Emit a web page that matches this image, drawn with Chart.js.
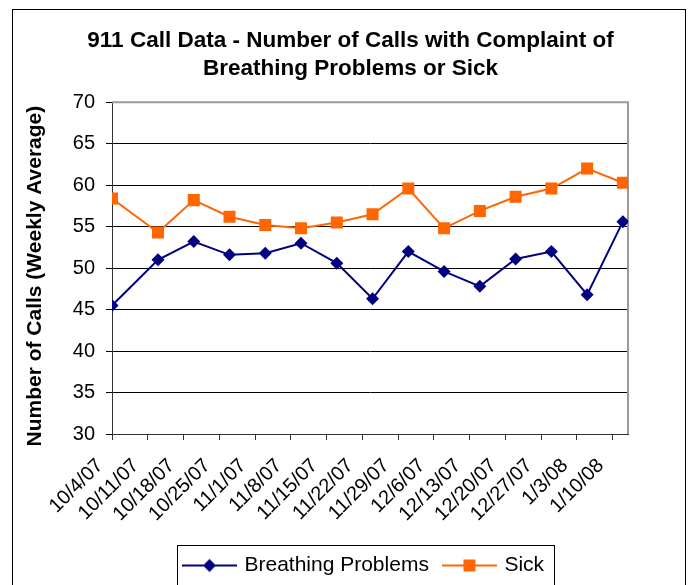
<!DOCTYPE html>
<html>
<head>
<meta charset="utf-8">
<script src="https://cdn.jsdelivr.net/npm/chart.js@4.4.1/dist/chart.umd.min.js"></script>
<style>
  html, body { margin: 0; padding: 0; background: #ffffff; }
  #wrap { position: relative; width: 693px; height: 585px; }
</style>
</head>
<body>
<div id="wrap"><canvas id="c" width="693" height="585"></canvas></div>
<script>
// ---- data ----
const titleLines = ["911 Call Data - Number of Calls with Complaint of", "Breathing Problems or Sick"];
const yAxisTitle = "Number of Calls (Weekly Average)";
const tickLabels = ["10/4/07", "10/11/07", "10/18/07", "10/25/07", "11/1/07", "11/8/07", "11/15/07", "11/22/07", "11/29/07", "12/6/07", "12/13/07", "12/20/07", "12/27/07", "1/3/08", "1/10/08"];
const tickDays = [0, 7, 14, 21, 28, 35, 42, 49, 56, 63, 70, 77, 84, 91, 98];   // days after 10/4/07
const pointDays = [0, 9, 16, 23, 30, 37, 44, 51, 58, 65, 72, 79, 86, 93, 100]; // data dates, days after 10/4/07
const breathing = [45.5, 51.0, 53.2, 51.6, 51.8, 53.0, 50.6, 46.3, 52.0, 49.6, 47.8, 51.1, 52.0, 46.8, 55.6];
const sick = [58.4, 54.3, 58.2, 56.2, 55.2, 54.8, 55.5, 56.5, 59.6, 54.8, 56.9, 58.6, 59.6, 62.0, 60.3];
const seriesNames = ["Breathing Problems", "Sick"];
const axisMaxDay = 101;

const FONT = "'Liberation Sans', Arial, sans-serif";
const NAVY = '#000080';
const ORANGE = '#FF6600';
const LEGEND_SHIFT = 14;
const YTITLE_SHIFT = 8;

function makeIcon(color, kind) {
  const c = document.createElement('canvas');
  c.width = 55; c.height = 16;
  const g = c.getContext('2d');
  g.strokeStyle = color; g.lineWidth = 2;
  g.beginPath(); g.moveTo(0, 8); g.lineTo(55, 8); g.stroke();
  g.fillStyle = color;
  g.beginPath();
  if (kind === 'diamond') {
    g.moveTo(27.5, 1.5); g.lineTo(34, 8); g.lineTo(27.5, 14.5); g.lineTo(21, 8); g.closePath();
  } else {
    g.rect(21.5, 2, 12, 12);
  }
  g.fill();
  return c;
}
const icons = [makeIcon(NAVY, 'diamond'), makeIcon(ORANGE, 'square')];

const frame = {
  id: 'frame',
  beforeDraw(chart) {
    const ctx = chart.ctx;
    ctx.save();
    ctx.fillStyle = '#fff';
    ctx.fillRect(0, 0, chart.width, chart.height);
    ctx.strokeStyle = '#000';
    ctx.lineWidth = 1;
    ctx.strokeRect(12.5, 9.5, 673, 620);
    ctx.restore();
    const lg = chart.legend;
    if (lg && !lg._shifted) { lg.left += LEGEND_SHIFT; lg.right += LEGEND_SHIFT; lg._shifted = true; }
    const ys = chart.scales.y;
    if (ys && !ys._titlePatched) {
      const orig = ys.drawTitle.bind(ys);
      ys.drawTitle = function () {
        const c = this.ctx;
        c.save(); c.translate(0, YTITLE_SHIFT); orig(); c.restore();
      };
      ys._titlePatched = true;
    }
  },
  beforeDatasetsDraw(chart) {
    const a = chart.chartArea, ctx = chart.ctx;
    ctx.save();
    ctx.strokeStyle = '#9a9a9a';
    ctx.lineWidth = 2;
    ctx.beginPath();
    ctx.moveTo(a.left, a.top); ctx.lineTo(a.right, a.top); ctx.lineTo(a.right, a.bottom);
    ctx.stroke();
    ctx.restore();
  },
  afterDraw(chart) {
    const lg = chart.legend, ctx = chart.ctx;
    if (!lg || !lg.legendHitBoxes || !lg.legendHitBoxes.length) return;
    const hb = lg.legendHitBoxes;
    const first = hb[0], last = hb[hb.length - 1];
    const l = first.left + LEGEND_SHIFT - 8, r = last.left + last.width + LEGEND_SHIFT + 10;
    ctx.save();
    ctx.strokeStyle = '#000';
    ctx.lineWidth = 1;
    ctx.strokeRect(Math.round(l) + 0.5, Math.round(lg.top + 6) + 0.5, Math.round(r - l), 60);
    ctx.restore();
  }
};

new Chart(document.getElementById('c'), {
  type: 'line',
  data: {
    datasets: [
      {
        label: seriesNames[0],
        data: pointDays.map((d, i) => ({ x: d, y: breathing[i] })),
        borderColor: NAVY, backgroundColor: NAVY, borderWidth: 2,
        pointStyle: 'rectRot', pointRadius: 6.5, pointBorderWidth: 0,
        pointBackgroundColor: NAVY, tension: 0
      },
      {
        label: seriesNames[1],
        data: pointDays.map((d, i) => ({ x: d, y: sick[i] })),
        borderColor: ORANGE, backgroundColor: ORANGE, borderWidth: 2,
        pointStyle: 'rect', pointRadius: 8.5, pointBorderWidth: 0,
        pointBackgroundColor: ORANGE, tension: 0
      }
    ]
  },
  options: {
    responsive: false,
    animation: false,
    events: [],
    layout: { padding: { top: 27, left: 18, right: 10, bottom: -1 } },
    scales: {
      x: {
        type: 'linear',
        min: 0, max: axisMaxDay,
        afterBuildTicks(scale) { scale.ticks = tickDays.map(v => ({ value: v })); },
        afterFit(scale) { scale.height = 105; },
        grid: { drawOnChartArea: false, drawTicks: true, tickLength: 6, color: '#333' },
        border: { color: '#333', width: 1 },
        ticks: {
          autoSkip: false, maxRotation: 45, minRotation: 45,
          color: '#000', padding: 14, labelOffset: -12,
          font: { family: FONT, size: 20 },
          callback: (v, i) => tickLabels[i]
        }
      },
      y: {
        min: 30, max: 70,
        afterFit(scale) { scale.width = 94; },
        grid: { color: '#000', tickLength: 6, drawTicks: true },
        border: { color: '#333', width: 1 },
        ticks: {
          stepSize: 5, color: '#000', padding: 11,
          font: { family: FONT, size: 20 }
        },
        title: {
          display: true, text: yAxisTitle, color: '#000',
          font: { family: FONT, size: 21, weight: 'bold' },
          padding: { top: 5, bottom: 0 }
        }
      },
      y2: {
        position: 'right',
        min: 30, max: 70,
        afterFit(scale) { scale.width = 55; },
        grid: { display: false },
        border: { display: false },
        ticks: { display: false }
      }
    },
    plugins: {
      title: {
        display: true, text: titleLines, color: '#000',
        font: { family: FONT, size: 22.5, weight: 'bold', lineHeight: 1.25 },
        padding: { top: 0, bottom: 19 }
      },
      legend: {
        position: 'bottom',
        labels: {
          usePointStyle: true, pointStyleWidth: 49,
          color: '#000', padding: 16,
          font: { family: FONT, size: 21 },
          generateLabels(chart) {
            const items = Chart.defaults.plugins.legend.labels.generateLabels(chart);
            items.forEach((it, i) => { it.pointStyle = icons[i]; });
            return items;
          }
        }
      },
      tooltip: { enabled: false }
    }
  },
  plugins: [frame]
});
</script>
</body>
</html>
